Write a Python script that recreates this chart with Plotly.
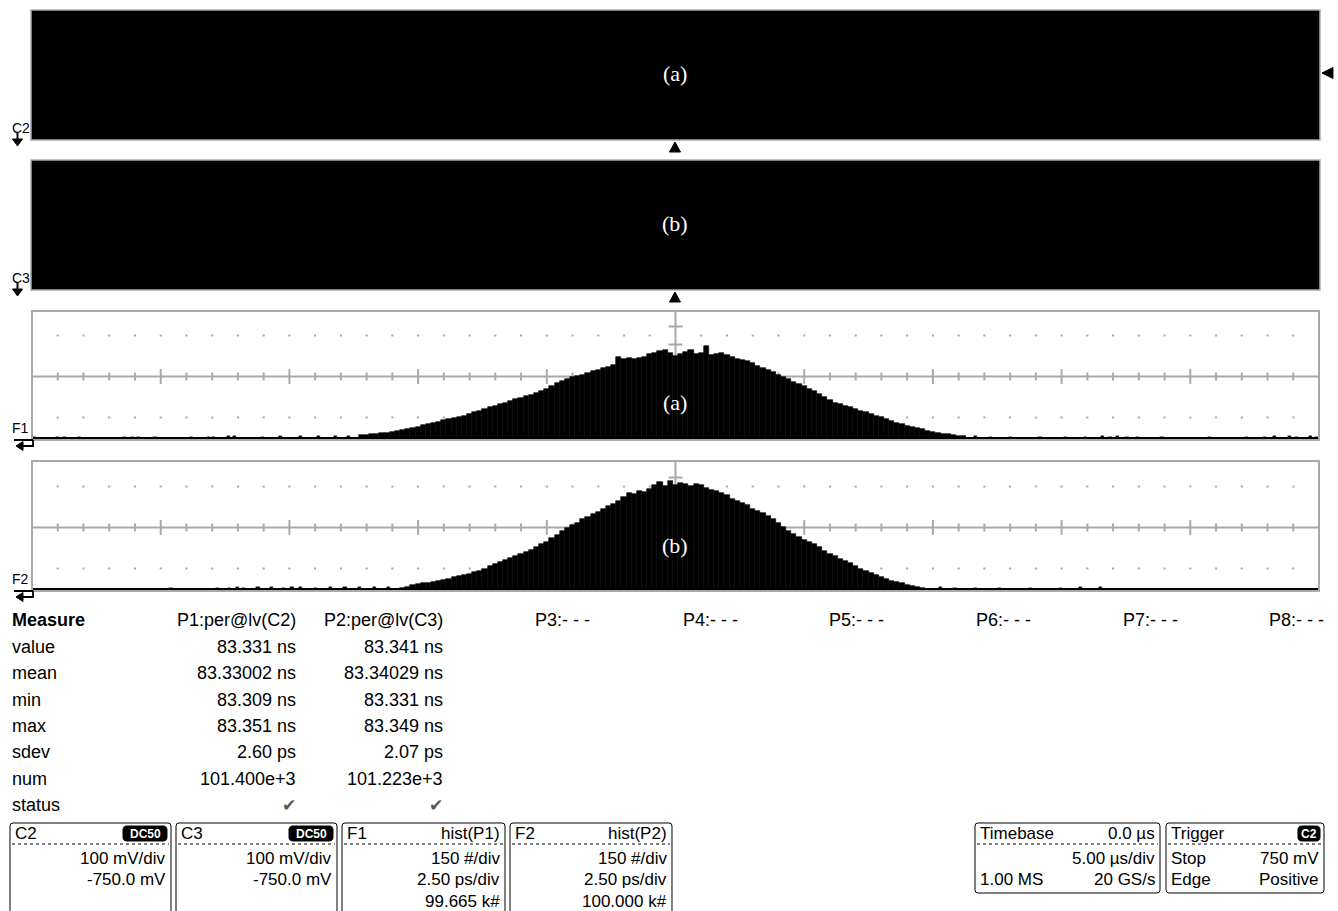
import plotly.graph_objects as go

W, H = 1338, 911

# ---------------- data ----------------
BIN_WIDTH_PS = 0.1
PS_PER_DIV = 2.5
COUNTS_PER_DIV = 150
X_DIVS = 10

F1_FIRST_BIN_PS = -6.1
F1_COUNTS = [11, 12, 15, 14, 18, 19, 22, 26, 28, 33, 37, 40, 48, 50, 55, 58, 66, 70, 72, 77,
             81, 88, 95, 98, 106, 113, 116, 124, 129, 135, 143, 146, 154, 156, 165, 172, 179, 190,
             201, 208, 216, 223, 227, 231, 238, 245, 249, 256, 260, 267, 296, 289, 293, 289, 293,
             296, 307, 311, 318, 322, 311, 300, 307, 315, 322, 307, 311, 337, 304, 307, 311, 304,
             296, 289, 285, 282, 275, 264, 256, 249, 242, 231, 223, 216, 205, 198, 190, 179, 172,
             161, 150, 139, 128, 124, 117, 113, 106, 99, 95, 88, 81, 77, 70, 62, 55, 51, 44, 40,
             37, 33, 26, 22, 18, 15, 15, 11, 7, 7]

F2_FIRST_BIN_PS = -5.3
F2_COUNTS = [4, 7, 15, 18, 22, 21, 26, 29, 33, 37, 44, 48, 51, 55, 62, 66, 73, 84, 92, 99,
             106, 113, 121, 128, 135, 143, 154, 165, 172, 187, 198, 212, 223, 234, 242, 256, 264,
             275, 282, 293, 304, 311, 322, 337, 351, 348, 359, 355, 366, 381, 392, 377, 395, 381,
             388, 384, 377, 384, 381, 370, 362, 359, 351, 344, 329, 322, 315, 307, 293, 285, 278,
             267, 256, 242, 227, 212, 201, 190, 179, 172, 165, 154, 139, 128, 121, 110, 102, 95,
             84, 73, 66, 59, 51, 44, 37, 29, 26, 22, 15, 11, 7, 4]

F1_TAIL_PS = [-12.46, -12.01, -11.86, -11.57, -10.71, -10.54, -10.44, -10.11, -9.41, -9.08,
              -8.98, -8.69, -8.56, -8.03, -7.68, -7.29, -6.94, -6.61, -6.36,
              5.82, 6.11, 6.50, 7.08, 7.57, 7.96, 8.30, 8.44, 8.58, 8.77, 8.97, 9.45, 10.38,
              11.10, 11.45, 11.64, 11.93, 12.07, 12.33, 12.45]
F1_TAIL_COUNTS = [5, 5, 4, 4, 5, 4, 5, 4, 5, 5, 4, 6, 6, 5, 6, 7, 6, 7, 8,
                  6, 5, 5, 5, 4, 5, 6, 5, 6, 5, 5, 5, 5, 5, 5, 6, 6, 5, 6, 5]

F2_TAIL_PS = [-9.80, -8.89, -8.67, -8.50, -8.40, -8.11, -7.84, -7.62, -7.45, -7.29, -7.00,
              -6.71, -6.42, -6.13, -5.84, -5.58,
              5.14, 5.43, 5.82, 6.30, 6.89, 7.47, 7.86, 8.25]
F2_TAIL_COUNTS = [5, 5, 5, 6, 5, 6, 6, 5, 6, 6, 5, 6, 7, 7, 8, 9,
                  6, 5, 5, 4, 5, 5, 6, 6]

PARAM_HEADERS = ["P1:per@lv(C2)", "P2:per@lv(C3)", "P3:- - -", "P4:- - -",
                 "P5:- - -", "P6:- - -", "P7:- - -", "P8:- - -"]
MEASURE_ROWS = ["value", "mean", "min", "max", "sdev", "num", "status"]
P1_VALUES = ["83.331 ns", "83.33002 ns", "83.309 ns", "83.351 ns", "2.60 ps", "101.400e+3", "\u2714"]
P2_VALUES = ["83.341 ns", "83.34029 ns", "83.331 ns", "83.349 ns", "2.07 ps", "101.223e+3", "\u2714"]

BOXES = [
    # (left, right, bottom, header-left, header-right, badge, rows[(left,right)])
    (10, 171, 930, "C2", "", "DC50", [("", "100 mV/div"), ("", "-750.0 mV")]),
    (176, 337, 930, "C3", "", "DC50", [("", "100 mV/div"), ("", "-750.0 mV")]),
    (342, 505, 930, "F1", "hist(P1)", "", [("", "150 #/div"), ("", "2.50 ps/div"), ("", "99.665 k#")]),
    (510, 672, 930, "F2", "hist(P2)", "", [("", "150 #/div"), ("", "2.50 ps/div"), ("", "100.000 k#")]),
    (975, 1160, 893, "Timebase", "0.0 \u00b5s", "", [("", "5.00 \u00b5s/div"), ("1.00 MS", "20 GS/s")]),
    (1166, 1324, 893, "Trigger", "", "C2", [("Stop", "750 mV"), ("Edge", "Positive")]),
]

# ---------------- geometry helpers ----------------
SANS = "Liberation Sans, Arial, sans-serif"
SERIF = "Liberation Serif, Times New Roman, serif"
GRID = "#a9a9a9"
GX0, GX1 = 32, 1319
PX_PER_DIV_Y = 41.0
K = COUNTS_PER_DIV / PX_PER_DIV_Y  # counts per pixel
TABLE_FONT = 18
BOX_FONT = 17


def X(px):
    return px / W


def Y(py):
    return 1 - py / H


def ppath(points, close=True):
    s = "M " + " L ".join(f"{X(a):.5f},{Y(b):.5f}" for a, b in points)
    return s + (" Z" if close else "")


def rrect(x0, y0, x1, y1, r=3):
    def p(a, b):
        return f"{X(a):.5f},{Y(b):.5f}"
    return (f"M {p(x0 + r, y0)} L {p(x1 - r, y0)} Q {p(x1, y0)} {p(x1, y0 + r)} "
            f"L {p(x1, y1 - r)} Q {p(x1, y1)} {p(x1 - r, y1)} L {p(x0 + r, y1)} "
            f"Q {p(x0, y1)} {p(x0, y1 - r)} L {p(x0, y0 + r)} Q {p(x0, y0)} {p(x0 + r, y0)} Z")


fig = go.Figure()
shapes = []
annotations = []

# ---------------- histogram panels ----------------
panels = [
    ("", 311, 438, 440, F1_COUNTS, F1_FIRST_BIN_PS, F1_TAIL_PS, F1_TAIL_COUNTS, "(a)", 402, "F1"),
    ("2", 461, 589, 591, F2_COUNTS, F2_FIRST_BIN_PS, F2_TAIL_PS, F2_TAIL_COUNTS, "(b)", 545, "F2"),
]
half_span = X_DIVS * PS_PER_DIV / 2
layout_axes = {}
for sfx, top, base, bottom, counts, first, tps, tcs, lab, laby, name in panels:
    xa, ya = "x" + sfx, "y" + sfx
    ymin, ymax = -(bottom - base) * K, (base - top) * K
    layout_axes["xaxis" + sfx] = dict(domain=[X(GX0), X(GX1)], range=[-half_span, half_span],
                                      visible=False, fixedrange=True, anchor=ya)
    layout_axes["yaxis" + sfx] = dict(domain=[Y(bottom), Y(top)], range=[ymin, ymax],
                                      visible=False, fixedrange=True, anchor=xa)
    centers = [first + i * BIN_WIDTH_PS for i in range(len(counts))]
    fig.add_trace(go.Bar(x=centers, y=counts, width=BIN_WIDTH_PS, xaxis=xa, yaxis=ya,
                         marker=dict(color="black", line=dict(color="black", width=0.6)),
                         hoverinfo="skip"))
    fig.add_trace(go.Bar(x=tps, y=tcs, width=0.06, xaxis=xa, yaxis=ya,
                         marker=dict(color="black", line=dict(color="black", width=0.4)),
                         hoverinfo="skip"))

    # grid (data coordinates, below the histogram)
    yc = 1.5 * COUNTS_PER_DIV
    minor = [-half_span + 0.5 * i for i in range(1, 50)]
    tick_path = f"M {-half_span},{yc} L {half_span},{yc}"
    for xv in minor:
        if abs(xv) < 1e-9:
            continue
        major = abs(xv / PS_PER_DIV - round(xv / PS_PER_DIV)) < 1e-9
        hl = (7.5 if major else 4) * K
        tick_path += f" M {xv:.3f},{yc - hl:.2f} L {xv:.3f},{yc + hl:.2f}"
    tick_path += f" M 0,{ymin} L 0,{ymax}"
    vh = 7 / 51.48
    for row in (yc + COUNTS_PER_DIV, yc - COUNTS_PER_DIV):
        for off in (-9 * K, 9 * K):
            tick_path += f" M {-vh:.3f},{row + off:.2f} L {vh:.3f},{row + off:.2f}"
    shapes.append(dict(type="path", xref=xa, yref=ya, path=tick_path, layer="below",
                       line=dict(color=GRID, width=2)))
    dot_path = ""
    dw, dh = 0.02, 1.0 * K
    for row in (yc + COUNTS_PER_DIV, yc - COUNTS_PER_DIV):
        for xv in minor:
            if abs(xv) < 1e-9:
                continue
            dot_path += (f"M {xv - dw:.3f},{row - dh:.2f} L {xv + dw:.3f},{row - dh:.2f} "
                         f"L {xv + dw:.3f},{row + dh:.2f} L {xv - dw:.3f},{row + dh:.2f} Z ")
    shapes.append(dict(type="path", xref=xa, yref=ya, path=dot_path, layer="below",
                       fillcolor=GRID, line=dict(width=0)))
    shapes.append(dict(type="line", xref=xa, yref=ya, x0=-half_span, x1=half_span, y0=0, y1=0,
                       line=dict(color="black", width=2), layer="above"))
    shapes.append(dict(type="rect", xref="paper", yref="paper", x0=X(GX0), x1=X(GX1),
                       y0=Y(bottom), y1=Y(top), line=dict(color=GRID, width=2), layer="above"))
    annotations.append(dict(x=X(675), y=Y(laby), xref="paper", yref="paper", text=lab,
                            showarrow=False, font=dict(family=SERIF, size=22, color="white"),
                            xanchor="center", yanchor="middle"))
    annotations.append(dict(x=X(10), y=Y(base - 10), xref="paper", yref="paper", text=name,
                            showarrow=False, font=dict(family=SANS, size=14, color="black"),
                            xanchor="left", yanchor="middle"))
    shapes.append(dict(type="path", xref="paper", yref="paper",
                       path=ppath([(14, base + 2), (33, base + 2)], close=False),
                       line=dict(color="black", width=2)))
    shapes.append(dict(type="path", xref="paper", yref="paper",
                       path=ppath([(33, base + 2), (33, base + 8), (20, base + 8)], close=False),
                       line=dict(color="black", width=1.8)))
    shapes.append(dict(type="path", xref="paper", yref="paper",
                       path=ppath([(16, base + 8), (23, base + 3.5), (23, base + 12.5)]),
                       fillcolor="black", line=dict(color="black", width=1)))

# ---------------- black channel panels ----------------
for top, bottom, lab, name in [(10, 140, "(a)", "C2"), (160, 290, "(b)", "C3")]:
    shapes.append(dict(type="rect", xref="paper", yref="paper", x0=X(31), x1=X(1320),
                       y0=Y(bottom), y1=Y(top), fillcolor="black",
                       line=dict(color=GRID, width=1.5), layer="above"))
    annotations.append(dict(x=X(675), y=Y((top + bottom) / 2 - 2), xref="paper", yref="paper",
                            text=lab, showarrow=False,
                            font=dict(family=SERIF, size=22, color="white"),
                            xanchor="center", yanchor="middle"))
    annotations.append(dict(x=X(10), y=Y(bottom - 12), xref="paper", yref="paper", text=name,
                            showarrow=False, font=dict(family=SANS, size=14, color="black"),
                            xanchor="left", yanchor="middle"))
    shapes.append(dict(type="path", xref="paper", yref="paper",
                       path=ppath([(17.5, bottom - 7), (17.5, bottom + 3)], close=False),
                       line=dict(color="black", width=2)))
    shapes.append(dict(type="path", xref="paper", yref="paper",
                       path=ppath([(12.5, bottom - 1), (22.5, bottom - 1), (17.5, bottom + 6)]),
                       fillcolor="black", line=dict(color="black", width=1)))
    shapes.append(dict(type="path", xref="paper", yref="paper",
                       path=ppath([(675, bottom + 2), (669.5, bottom + 12), (680.5, bottom + 12)]),
                       fillcolor="black", line=dict(color="black", width=1)))

shapes.append(dict(type="path", xref="paper", yref="paper",
                   path=ppath([(1322, 73), (1333, 67.5), (1333, 78.5)]),
                   fillcolor="black", line=dict(color="black", width=1)))

# ---------------- measurement table ----------------
COL_RIGHT = [298, 445, 592, 740, 886, 1033, 1180, 1326]
ROW_Y = [647, 673, 700, 726, 752, 779, 805]
annotations.append(dict(x=X(10), y=Y(620), xref="paper", yref="paper", text="<b>Measure</b>",
                        showarrow=False, font=dict(family=SANS, size=TABLE_FONT, color="black"),
                        xanchor="left", yanchor="middle"))
for hdr, xr in zip(PARAM_HEADERS, COL_RIGHT):
    annotations.append(dict(x=X(xr), y=Y(620), xref="paper", yref="paper", text=hdr,
                            showarrow=False, font=dict(family=SANS, size=TABLE_FONT, color="black"),
                            xanchor="right", yanchor="middle"))
for i, row in enumerate(MEASURE_ROWS):
    annotations.append(dict(x=X(10), y=Y(ROW_Y[i]), xref="paper", yref="paper", text=row,
                            showarrow=False, font=dict(family=SANS, size=TABLE_FONT, color="black"),
                            xanchor="left", yanchor="middle"))
    for vals, xr in ((P1_VALUES, COL_RIGHT[0]), (P2_VALUES, COL_RIGHT[1])):
        is_check = vals[i] == "\u2714"
        annotations.append(dict(x=X(xr), y=Y(ROW_Y[i]), xref="paper", yref="paper",
                                text=vals[i], showarrow=False,
                                font=dict(family=("DejaVu Sans" if is_check else SANS),
                                          size=(17 if is_check else TABLE_FONT),
                                          color=("#555555" if is_check else "black")),
                                xanchor="right", yanchor="middle"))

# ---------------- descriptor boxes ----------------
for x0, x1, yb, hl, hr, badge, rows in BOXES:
    shapes.append(dict(type="path", xref="paper", yref="paper", path=rrect(x0, 823, x1, yb, 3),
                       line=dict(color="black", width=1)))
    shapes.append(dict(type="line", xref="paper", yref="paper", x0=X(x0 + 2), x1=X(x1 - 2),
                       y0=Y(844), y1=Y(844), line=dict(color="black", width=1, dash="dot")))
    annotations.append(dict(x=X(x0 + 3), y=Y(833), xref="paper", yref="paper", text=hl,
                            showarrow=False, font=dict(family=SANS, size=BOX_FONT, color="black"),
                            xanchor="left", yanchor="middle"))
    if hr:
        annotations.append(dict(x=X(x1 - 3), y=Y(833), xref="paper", yref="paper", text=hr,
                                showarrow=False, font=dict(family=SANS, size=BOX_FONT, color="black"),
                                xanchor="right", yanchor="middle"))
    if badge:
        bw = 44 if len(badge) > 2 else 22
        shapes.append(dict(type="path", xref="paper", yref="paper",
                           path=rrect(x1 - 4 - bw, 826, x1 - 4, 841, 4),
                           fillcolor="black", line=dict(color="black", width=1)))
        annotations.append(dict(x=X(x1 - 4 - bw / 2), y=Y(833.5), xref="paper", yref="paper",
                                text=f"<b>{badge}</b>", showarrow=False,
                                font=dict(family=SANS, size=12, color="white"),
                                xanchor="center", yanchor="middle"))
    for j, (lt, rt) in enumerate(rows):
        yy = 858 + 21.5 * j
        if lt:
            annotations.append(dict(x=X(x0 + 3), y=Y(yy), xref="paper", yref="paper", text=lt,
                                    showarrow=False, font=dict(family=SANS, size=BOX_FONT, color="black"),
                                    xanchor="left", yanchor="middle"))
        if rt:
            annotations.append(dict(x=X(x1 - 3), y=Y(yy), xref="paper", yref="paper", text=rt,
                                    showarrow=False, font=dict(family=SANS, size=BOX_FONT, color="black"),
                                    xanchor="right", yanchor="middle"))

fig.update_layout(
    width=W, height=H, margin=dict(l=0, r=0, t=0, b=0),
    paper_bgcolor="white", plot_bgcolor="rgba(0,0,0,0)",
    showlegend=False, bargap=0, barmode="overlay",
    shapes=shapes, annotations=annotations,
    **layout_axes,
)
fig.write_html("out.html", config={"displayModeBar": False},
               post_script="document.body.style.margin='0';document.body.style.overflow='hidden';")
